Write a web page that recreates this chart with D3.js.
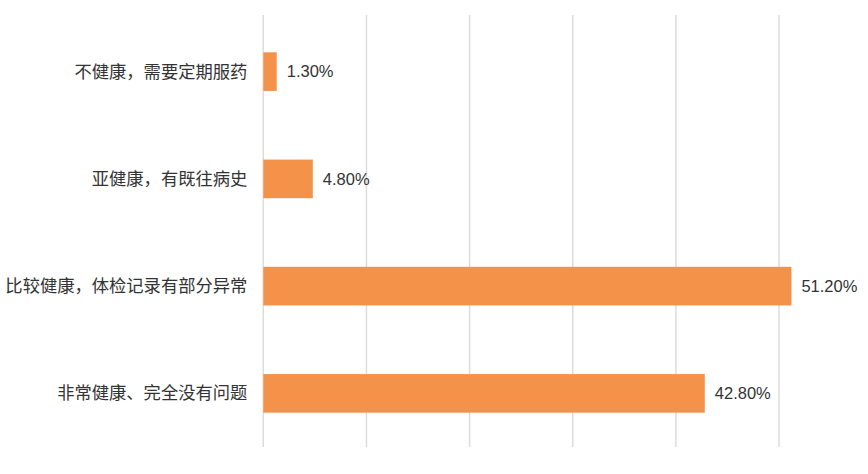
<!DOCTYPE html>
<html>
<head>
<meta charset="utf-8">
<script src="https://cdn.jsdelivr.net/npm/d3@7"></script>
<style>
    body { margin: 0; background: #fff; }
    svg text { font-family: "Liberation Sans", "Noto Sans CJK SC", sans-serif; fill: #333; }
</style>
</head>
<body>
<svg id="chart" width="868" height="474"></svg>
<script>
const categories = ['不健康，需要定期服药', '亚健康，有既往病史', '比较健康，体检记录有部分异常', '非常健康、完全没有问题'];
const values = [1.3, 4.8, 51.2, 42.8];
const gridTicks = [0, 10, 20, 30, 40, 50];

const svg = d3.select('#chart');
const left = 263.3, right = 882.2;

const x = d3.scaleLinear().domain([0, 60]).range([left, right]);
const y = d3.scaleBand().domain(categories).range([18, 447]).paddingInner(0.64).paddingOuter(0.32);

// gridlines
svg.append('g')
    .selectAll('line')
    .data(gridTicks)
    .enter()
    .append('line')
    .attr('x1', d => x(d))
    .attr('x2', d => x(d))
    .attr('y1', 15)
    .attr('y2', 447)
    .style('stroke', '#dcdcdc')
    .style('stroke-width', '1.5px');

// bars
svg.append('g')
    .selectAll('rect')
    .data(values)
    .enter()
    .append('rect')
    .attr('x', x(0))
    .attr('y', (d, i) => y(categories[i]))
    .attr('width', d => x(d) - x(0))
    .attr('height', y.bandwidth())
    .style('fill', '#f5924a');

// value labels
svg.append('g')
    .selectAll('text')
    .data(values)
    .enter()
    .append('text')
    .attr('x', d => x(d) + 10)
    .attr('y', (d, i) => y(categories[i]) + y.bandwidth() / 2)
    .attr('dy', '0.35em')
    .style('font-size', '16.5px')
    .text(d => d.toFixed(2) + '%');

// category labels
svg.append('g')
    .selectAll('text')
    .data(categories)
    .enter()
    .append('text')
    .attr('x', left - 16)
    .attr('y', d => y(d) + y.bandwidth() / 2)
    .attr('dy', '0.35em')
    .attr('text-anchor', 'end')
    .style('font-family', '"Noto Sans CJK SC", sans-serif')
    .style('font-size', '17.3px')
    .text(d => d);
</script>
</body>
</html>
